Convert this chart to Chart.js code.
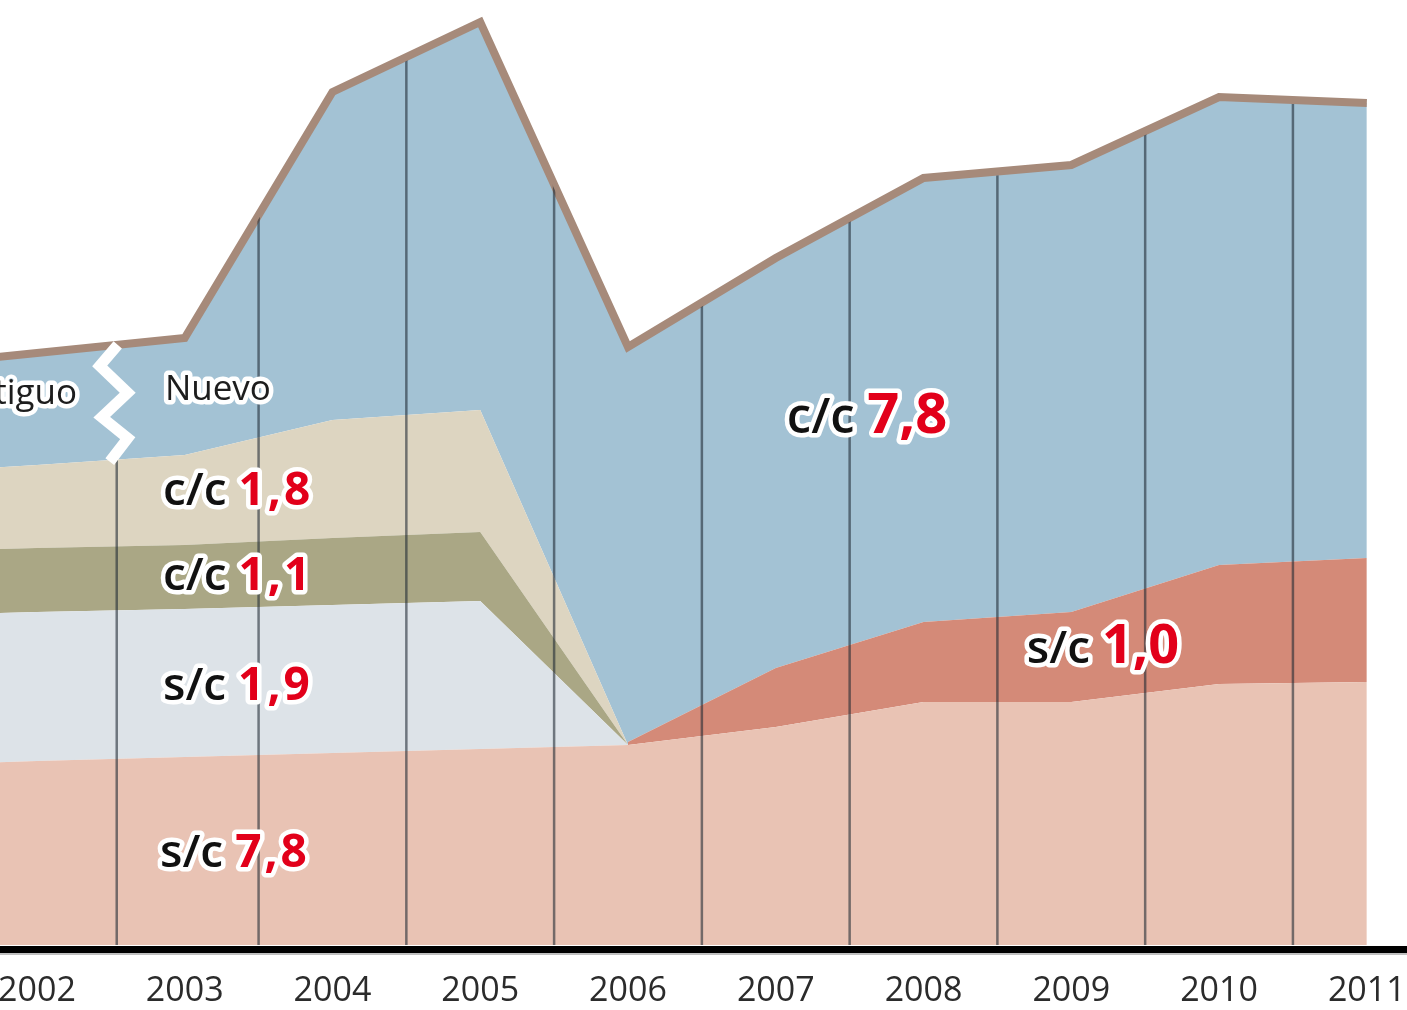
<!DOCTYPE html>
<html>
<head>
<meta charset="utf-8">
<script src="https://cdn.jsdelivr.net/npm/chart.js@4"></script>
<style>
  body { margin: 0; background: #fff; }
  canvas { display: block; }
</style>
</head>
<body>
<canvas id="chart" width="1407" height="1010"></canvas>
<script>
// years shown on the axis
const tickYears = [2002, 2003, 2004, 2005, 2006, 2007, 2008, 2009, 2010, 2011];
// thin separators between the years (first one is the Antiguo/Nuevo break)
const separators = [2002.54, 2003.5, 2004.5, 2005.5, 2006.5, 2007.5, 2008.5, 2009.5, 2010.5];

// old series (Antiguo) 2001-2006, layer thickness
const oldYears = [2001, 2002, 2003, 2004, 2005, 2006];
const oldSinCoste = [17.9, 18.4, 18.8, 19.2, 19.6, 20.0];    // s/c 7,8
const oldSinCoste2 = [15.0, 14.9, 14.8, 14.8, 14.8, 0];      // s/c 1,9
const oldConCoste1 = [6.4, 6.4, 6.4, 6.7, 6.9, 0];           // c/c 1,1
const oldConCoste2 = [7.8, 8.3, 9.0, 11.8, 12.2, 0];         // c/c 1,8
const oldResto = [10.6, 11.2, 11.7, 32.8, 38.8, 39.8];       // blue top

// new series 2006-2011
const newYears = [2006, 2007, 2008, 2009, 2010, 2011];
const newSinCoste = [20.0, 21.8, 24.3, 24.3, 26.1, 26.3];    // s/c
const newSinCoste2 = [0.3, 5.9, 8.0, 9.0, 11.9, 12.4];       // s/c 1,0
const newConCoste = [39.5, 41.0, 44.4, 44.7, 46.8, 45.5];    // c/c 7,8

const pts = (xs, ys) => xs.map((x, i) => ({ x, y: ys[i] }));

// outline = total of each stack
const oldLayers = [oldSinCoste, oldSinCoste2, oldConCoste1, oldConCoste2, oldResto];
const newLayers = [newSinCoste, newSinCoste2, newConCoste];
const totals = [];
oldYears.slice(0, -1).forEach((y, i) => totals.push({ x: y, y: oldLayers.reduce((s, a) => s + a[i], 0) }));
newYears.forEach((y, i) => totals.push({ x: y, y: newLayers.reduce((s, a) => s + a[i], 0) }));

const PINK = '#e9c3b4', GREYBLUE = '#dde3e8', OLIVE = '#aaa785', BEIGE = '#ddd5c1',
      BLUE = '#a3c2d4', SALMON = '#d48a78', OUTLINE = '#a68a7a';

function layer(data, color, fill, stack) {
  return { data, backgroundColor: color, borderColor: 'rgba(0,0,0,0)', borderWidth: 0,
           fill, stack, pointRadius: 0 };
}

// y of a dataset's line at pixel x
function yAt(meta, px) {
  const d = meta.data;
  for (let i = 0; i < d.length - 1; i++) {
    if (px >= d[i].x && px <= d[i + 1].x) {
      const t = (px - d[i].x) / (d[i + 1].x - d[i].x);
      return d[i].y + t * (d[i + 1].y - d[i].y);
    }
  }
  return d[d.length - 1].y;
}

const RED = '#e2001a';
// [prefix, number, x left, baseline value, prefix px, number px, spacing]
const labels = [
  ['c/c', '1,8', 2002.853, 44.0, 46, 46, 3],
  ['c/c', '1,1', 2002.853, 35.5, 46, 46, 3],
  ['s/c', '1,9', 2002.853, 24.5, 46, 46, 3],
  ['s/c', '7,8', 2002.833, 7.8, 46, 46, 3],
  ['c/c', '7,8', 2007.075, 51.2, 49, 56, 0],
  ['s/c', '1,0', 2008.699, 28.2, 46, 54, 0]
];

const decor = {
  id: 'decor',
  afterDatasetsDraw(chart) {
    const { ctx, chartArea, scales } = chart;
    const x = scales.x;
    const outline = chart.getDatasetMeta(8);
    const beige = chart.getDatasetMeta(3);
    const bottom = chartArea.bottom;
    const breakX = x.getPixelForValue(separators[0]);

    // vertical separators, clipped under the outline
    ctx.save();
    ctx.beginPath();
    ctx.moveTo(outline.data[0].x, bottom);
    outline.data.forEach(p => ctx.lineTo(p.x, p.y + 4));
    ctx.lineTo(outline.data[outline.data.length - 1].x, bottom);
    ctx.closePath();
    ctx.clip();
    ctx.strokeStyle = 'rgba(30,40,50,0.58)';
    ctx.lineWidth = 2.5;
    separators.forEach((s, i) => {
      const px = x.getPixelForValue(s);
      const top = i === 0 ? yAt(beige, px) : chartArea.top;
      ctx.beginPath();
      ctx.moveTo(px, bottom);
      ctx.lineTo(px, top);
      ctx.stroke();
    });
    ctx.restore();

    // zigzag break between Antiguo and Nuevo
    const zt = yAt(outline, breakX), zb = yAt(beige, breakX) + 2;
    const zig = [[1, 0], [-17, 0.18], [11, 0.41], [-15, 0.62], [11, 0.8], [-7, 1]];
    ctx.save();
    ctx.strokeStyle = '#fff';
    ctx.lineWidth = 11;
    ctx.lineJoin = 'miter';
    ctx.beginPath();
    zig.forEach(([dx, f], i) => {
      const px = breakX + dx, py = zt + f * (zb - zt);
      i ? ctx.lineTo(px, py) : ctx.moveTo(px, py);
    });
    ctx.stroke();
    ctx.restore();
  },
  afterDraw(chart) {
    const { ctx, chartArea, scales } = chart;
    const x = scales.x, y = scales.y;
    ctx.save();
    // axis line
    ctx.fillStyle = '#000';
    ctx.fillRect(chartArea.left, chartArea.bottom + 1, chartArea.right - chartArea.left, 7);
    ctx.fillStyle = 'rgba(0,0,0,0.25)';
    ctx.fillRect(chartArea.left, chartArea.bottom + 8, chartArea.right - chartArea.left, 2);

    // year labels
    ctx.font = '34px "Open Sans"';
    ctx.fillStyle = '#2b2b2b';
    ctx.textAlign = 'center';
    ctx.textBaseline = 'middle';
    tickYears.forEach(yr => ctx.fillText(String(yr), x.getPixelForValue(yr), chartArea.bottom + 46));

    // haloed text helper
    ctx.lineJoin = 'round';
    ctx.textBaseline = 'alphabetic';
    const halo = (txt, px, py, color) => {
      ctx.strokeStyle = '#fff';
      ctx.lineWidth = 9;
      ctx.strokeText(txt, px, py);
      ctx.fillStyle = color;
      ctx.fillText(txt, px, py);
    };

    // Antiguo / Nuevo
    ctx.font = '35px "Open Sans"';
    ctx.textAlign = 'right';
    halo('Antiguo', x.getPixelForValue(2002.271), y.getPixelForValue(54.1), '#1d1d1d');
    ctx.textAlign = 'left';
    halo('Nuevo', x.getPixelForValue(2002.866), y.getPixelForValue(54.5), '#1d1d1d');

    // layer labels
    labels.forEach(([pre, num, xv, yv, ps, ns, sp]) => {
      const px = x.getPixelForValue(xv), py = y.getPixelForValue(yv);
      ctx.letterSpacing = '0px';
      ctx.font = '600 ' + ps + 'px "Open Sans"';
      halo(pre, px, py, '#111');
      const w = ctx.measureText(pre + ' ').width;
      ctx.font = 'bold ' + ns + 'px "Open Sans"';
      ctx.letterSpacing = sp + 'px';
      halo(num, px + w, py, RED);
    });
    ctx.restore();
  }
};

new Chart(document.getElementById('chart'), {
  type: 'line',
  data: {
    datasets: [
      layer(pts(oldYears, oldSinCoste), PINK, 'origin', 'old'),
      layer(pts(oldYears, oldSinCoste2), GREYBLUE, '-1', 'old'),
      layer(pts(oldYears, oldConCoste1), OLIVE, '-1', 'old'),
      layer(pts(oldYears, oldConCoste2), BEIGE, '-1', 'old'),
      layer(pts(oldYears, oldResto), BLUE, '-1', 'old'),
      layer(pts(newYears, newSinCoste), PINK, 'origin', 'new'),
      layer(pts(newYears, newSinCoste2), SALMON, '-1', 'new'),
      layer(pts(newYears, newConCoste), BLUE, '-1', 'new'),
      { data: totals, borderColor: OUTLINE, borderWidth: 8, fill: false, stack: 'total',
        pointRadius: 0, order: -1, borderJoinStyle: 'miter' }
    ]
  },
  options: {
    responsive: false,
    animation: false,
    layout: { padding: { left: 0, right: 0, top: 0, bottom: 65 } },
    plugins: { legend: { display: false }, tooltip: { enabled: false } },
    elements: { line: { tension: 0 } },
    scales: {
      x: { type: 'linear', min: 2001.75, max: 2011.272, display: false },
      y: { stacked: true, min: 0, max: 94.5, display: false }
    }
  },
  plugins: [decor]
});
</script>
</body>
</html>
